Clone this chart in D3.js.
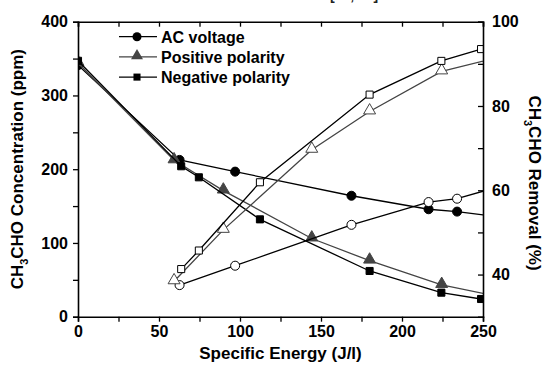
<!DOCTYPE html>
<html>
<head>
<meta charset="utf-8">
<script src="https://cdn.jsdelivr.net/npm/d3@7"></script>
<style>
body { margin: 0; background: #fff; }
text { font-family: "Liberation Sans", Arial, sans-serif; font-weight: bold; }
</style>
</head>
<body>
<script>
// data
var acEnergy = [0, 62.7, 97, 168.8, 216.4, 234, 262];
var acConc = [341, 212.6, 196.7, 164, 145.7, 142.5, 134.7];
var acRemoval = [null, 37.5, 42.1, 51.8, 57.2, 58, 61.1];

var posEnergy = [0, 59.3, 89.7, 144.3, 180, 224.5, 256];
var posConc = [344, 212, 171, 106, 76, 43, 29];
var posRemoval = [null, 38.4, 50.6, 69.6, 78.7, 88.2, 91.2];

var negEnergy = [0, 63.7, 74.6, 112.3, 180, 224.3, 248.8];
var negConc = [347, 204, 189, 132, 62, 32.6, 24];
var negRemoval = [null, 41.3, 45.7, 61.9, 82.7, 90.7, 93.5];

var xTicks = [0, 50, 100, 150, 200, 250];
var leftTicks = [0, 100, 200, 300, 400];
var rightTicks = [40, 60, 80, 100];
var legendNames = ["AC voltage", "Positive polarity", "Negative polarity"];

var W = 544, H = 365;
var margin = {top: 21.7, right: 61, bottom: 48.3, left: 78};

var svg = d3.select("body").append("svg").attr("width", W).attr("height", H);

var x = d3.scaleLinear().domain([0, 250]).range([margin.left, W - margin.right]);
var yL = d3.scaleLinear().domain([0, 400]).range([H - margin.bottom, margin.top]);
var yR = d3.scaleLinear().domain([30, 100]).range([H - margin.bottom, margin.top]);

svg.append("clipPath").attr("id", "plotclip").append("rect")
    .attr("x", margin.left).attr("y", margin.top - 6)
    .attr("width", x(250) - margin.left).attr("height", yL(0) - margin.top + 12);

// cut-off text at the very top
svg.append("text").attr("x", 330).attr("y", -0.5).attr("font-size", 14)
    .attr("font-weight", "normal").attr("fill", "#222").text("[12, 13]");

var plot = svg.append("g").attr("clip-path", "url(#plotclip)");

var black = "#000", gray = "#444";

function drawSeries(en, vals, scale, color, shape, filled) {
    var pts = en.map(function (e, i) { return [e, vals[i]]; })
        .filter(function (d) { return d[1] != null; });
    var line = d3.line()
        .x(function (d) { return x(d[0]); })
        .y(function (d) { return scale(d[1]); });
    plot.append("path").attr("d", line(pts)).attr("fill", "none")
        .attr("stroke", color).attr("stroke-width", 1.3);
    var sym = d3.symbol().type(shape)
        .size(shape == d3.symbolCircle ? 64 : (shape == d3.symbolTriangle ? 62 : 50));
    plot.selectAll(null).data(pts).enter().append("path")
        .attr("d", sym)
        .attr("transform", function (d) {
            var dy = shape == d3.symbolTriangle ? -1 : 0;
            return "translate(" + x(d[0]) + "," + (scale(d[1]) + dy) + ")";
        })
        .attr("fill", filled ? color : "#fff")
        .attr("stroke", color).attr("stroke-width", 1);
}

// concentration (left axis, filled markers)
drawSeries(acEnergy, acConc, yL, black, d3.symbolCircle, true);
drawSeries(posEnergy, posConc, yL, gray, d3.symbolTriangle, true);
drawSeries(negEnergy, negConc, yL, black, d3.symbolSquare, true);
// removal (right axis, open markers)
drawSeries(acEnergy, acRemoval, yR, black, d3.symbolCircle, false);
drawSeries(posEnergy, posRemoval, yR, gray, d3.symbolTriangle, false);
drawSeries(negEnergy, negRemoval, yR, black, d3.symbolSquare, false);

// axes
var xMinor = d3.range(0, 251, 25);
var bottomAx = d3.axisBottom(x).tickValues(xMinor).tickSize(5)
    .tickFormat(function (d) { return xTicks.indexOf(d) >= 0 ? d : ""; });
var gB = svg.append("g").attr("transform", "translate(0," + yL(0) + ")").call(bottomAx);
var topAx = d3.axisTop(x).tickValues(xMinor).tickSize(-5).tickFormat("");
var gT = svg.append("g").attr("transform", "translate(0," + margin.top + ")").call(topAx);
var leftAx = d3.axisLeft(yL).tickValues(d3.range(0, 401, 50)).tickSize(5)
    .tickFormat(function (d) { return leftTicks.indexOf(d) >= 0 ? d : ""; });
var gL = svg.append("g").attr("transform", "translate(" + margin.left + ",0)").call(leftAx);
var rightAx = d3.axisRight(yR).tickValues(d3.range(40, 101, 10)).tickSize(-5)
    .tickFormat(function (d) { return rightTicks.indexOf(d) >= 0 ? d : ""; });
var gR = svg.append("g").attr("transform", "translate(" + x(250) + ",0)").call(rightAx);

[gB, gT, gL, gR].forEach(function (g) {
    g.select(".domain").attr("stroke", "#000").attr("stroke-width", 1.6);
    g.selectAll(".tick line").attr("stroke", "#000").attr("stroke-width", 1.3);
    g.selectAll(".tick text").attr("font-size", 16).attr("fill", "#000")
        .style("font-family", "Liberation Sans, Arial, sans-serif").style("font-weight", "bold");
});
gB.selectAll(".tick text").attr("dy", "0.71em").attr("y", 9);
gL.selectAll(".tick text").attr("x", -10);
gR.selectAll(".tick text").attr("x", 9);

// axis titles
svg.append("text").attr("x", (margin.left + x(250)) / 2).attr("y", 359)
    .attr("text-anchor", "middle").attr("font-size", 17).text("Specific Energy (J/l)");

var tl = svg.append("text").attr("transform", "translate(23," + ((yL(0) + yL(400)) / 2) + ") rotate(-90)")
    .attr("text-anchor", "middle").attr("font-size", 17);
tl.append("tspan").text("CH");
tl.append("tspan").attr("font-size", 11).attr("dy", 5).text("3");
tl.append("tspan").attr("dy", -5).text("CHO Concentration (ppm)");

var tr = svg.append("text").attr("transform", "translate(529,183) rotate(90)")
    .attr("text-anchor", "middle").attr("font-size", 17);
tr.append("tspan").text("CH");
tr.append("tspan").attr("font-size", 11).attr("dy", 5).text("3");
tr.append("tspan").attr("dy", -5).text("CHO Removal (%)");

// legend
var legShapes = [d3.symbolCircle, d3.symbolTriangle, d3.symbolSquare];
var legColors = [black, gray, black];
var legSizes = [64, 62, 50];
var leg = svg.append("g");
legendNames.forEach(function (name, i) {
    var yy = 36.7 + i * 20.2;
    leg.append("line").attr("x1", 119).attr("x2", 157).attr("y1", yy).attr("y2", yy)
        .attr("stroke", legColors[i]).attr("stroke-width", 1.3);
    leg.append("path").attr("d", d3.symbol().type(legShapes[i]).size(legSizes[i]))
        .attr("transform", "translate(137," + (yy - (i == 1 ? 1 : 0)) + ")")
        .attr("fill", legColors[i]);
    leg.append("text").attr("x", 161).attr("y", yy + 6).attr("font-size", 16).text(name);
});
</script>
</body>
</html>
